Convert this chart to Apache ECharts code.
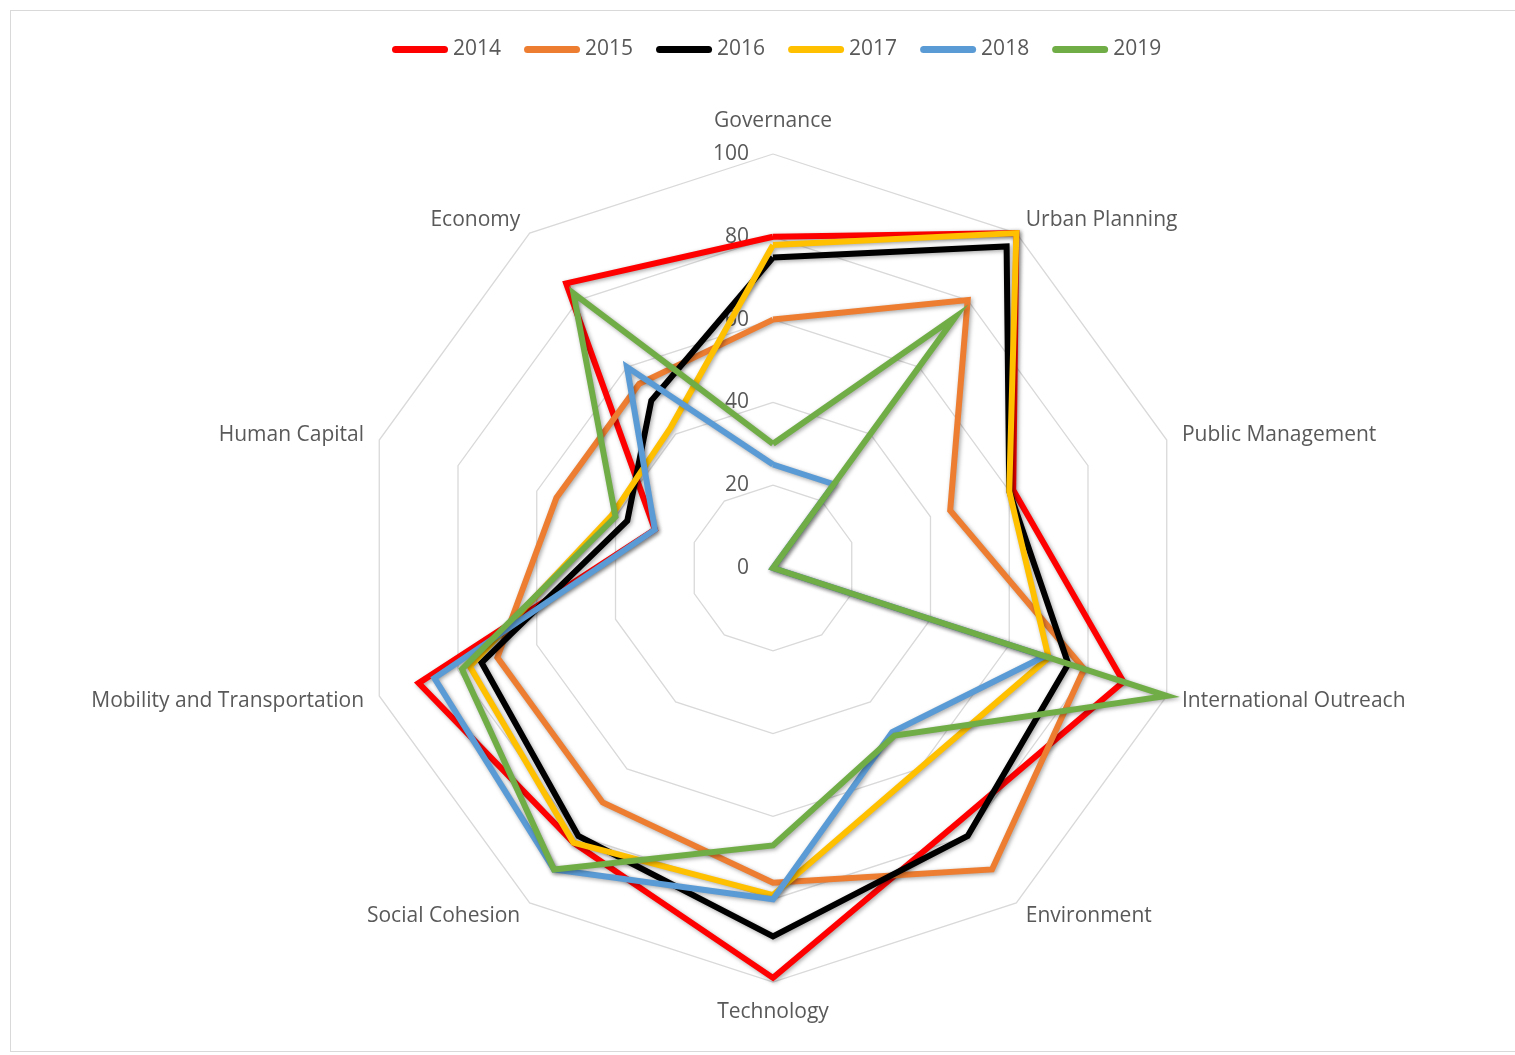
<!DOCTYPE html>
<html>
<head>
<meta charset="utf-8">
<script src="https://cdn.jsdelivr.net/npm/echarts@6/dist/echarts.min.js"></script>
<style>
html,body{margin:0;padding:0;overflow:hidden;background:#fff;width:1515px;height:1055px;}
#box{position:absolute;left:10px;top:10px;width:1524px;height:1042px;border:1px solid #d9d9d9;box-sizing:border-box;}
#chart{width:100%;height:100%;}
</style>
</head>
<body>
<div id="box"><div id="chart"></div></div>
<script>
// Axes listed clockwise starting from the top
const categories = ['Governance', 'Urban Planning', 'Public Management', 'International Outreach',
  'Environment', 'Technology', 'Social Cohesion', 'Mobility and Transportation', 'Human Capital', 'Economy'];
const years = ['2014', '2015', '2016', '2017', '2018', '2019'];
const values2014 = [80, 100, 61, 89, 76, 99, 82, 90, 30, 85];
const values2015 = [60, 80, 45, 79, 90, 76, 70, 70, 55, 55];
const values2016 = [75, 96, 60, 75, 80, 89, 80, 74, 37, 50];
const values2017 = [78, 100, 60, 70, 60, 79, 82, 77, 41, 42];
const values2018 = [25, 25, 0, 69, 49, 80, 90, 86, 30, 60];
const values2019 = [30, 75, 0, 100, 50, 67, 90, 79, 40, 82];
const tickValues = [0, 20, 40, 60, 80, 100];

const seriesValues = [values2014, values2015, values2016, values2017, values2018, values2019];
const colors = ['#FF0000', '#ED7D31', '#000000', '#FFC000', '#5B9BD5', '#70AD47'];

// ECharts places radar indicators counter-clockwise; reorder so they read clockwise.
const order = [0];
for (let i = categories.length - 1; i >= 1; i--) order.push(i);
const reorder = arr => order.map(i => arr[i]);

const indicators = reorder(categories).map((name, k) => {
  const ind = { name: name, min: tickValues[0], max: tickValues[tickValues.length - 1] };
  if (k === 0) {
    ind.axisLabel = { show: true };
    ind.nameGap = 22;
  }
  if (name === 'Technology') ind.nameGap = 20;
  return ind;
});

const chart = echarts.init(document.getElementById('chart'));
chart.setOption({
  animation: false,
  textStyle: { fontFamily: 'Open Sans', color: '#595959' },
  legend: {
    top: 23,
    left: 376,
    itemWidth: 56,
    itemHeight: 7,
    itemGap: 23,
    icon: 'path://M3.5,0 L52.5,0 A3.5,3.5 0 0 1 52.5,7 L3.5,7 A3.5,3.5 0 0 1 3.5,0 Z',
    textStyle: { fontSize: 21, color: '#595959', fontFamily: 'Open Sans', lineHeight: 20 },
    data: years
  },
  radar: {
    center: [762, 557],
    radius: 414,
    shape: 'polygon',
    splitNumber: tickValues.length - 1,
    indicator: indicators,
    axisNameGap: 16,
    axisName: { color: '#595959', fontSize: 21, fontFamily: 'Open Sans' },
    axisLine: { show: false },
    axisTick: { show: false },
    axisLabel: { show: false, color: '#595959', fontSize: 21, fontFamily: 'Open Sans', margin: 24, showMinLabel: true },
    splitLine: { lineStyle: { color: '#D9D9D9', width: 1.3 } },
    splitArea: { show: false }
  },
  series: [{
    type: 'radar',
    symbol: 'none',
    data: years.map((y, i) => ({
      name: y,
      value: reorder(seriesValues[i]),
      itemStyle: { color: colors[i] },
      lineStyle: {
        color: colors[i], width: 6, join: 'miter',
        shadowColor: 'rgba(0,0,0,0.35)', shadowBlur: 4, shadowOffsetX: 1.5, shadowOffsetY: 1.5
      }
    }))
  }]
});
</script>
</body>
</html>
